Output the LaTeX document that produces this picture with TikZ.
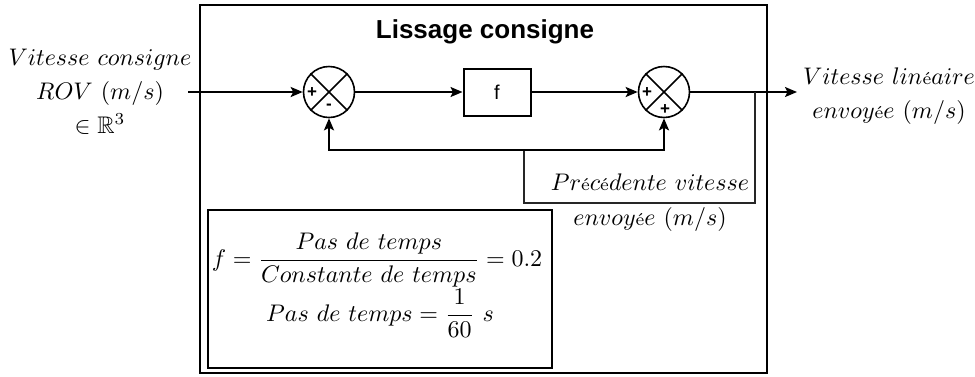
\RequirePackage{fix-cm}
\documentclass[tikz,border=0pt]{standalone}
\usepackage{amsmath,amssymb}
\usepackage{fontspec}
\newfontfamily\sansfnt{Liberation Sans}
\usetikzlibrary{arrows.meta}
\newcommand{\myeacc}{\text{\fontsize{7.2}{8}\selectfont é}}
\newcommand{\mymath}[1]{\scalebox{2.4}{$#1$}}
\begin{document}
\begin{tikzpicture}[x=1pt,y=-1pt,
  ln/.style={line width=2pt},
  arr/.style={ln,-{Stealth[length=12pt,width=10pt,inset=2.5pt]}},
  thinln/.style={line width=1.3pt,black!85},
  sumnode/.style={circle,draw,line width=1.6pt,minimum size=51pt,inner sep=0pt},
  mtxt/.style={inner sep=0pt,anchor=base},
  sign/.style={inner sep=0pt,font=\sansfnt\fontsize{17}{17}\selectfont\bfseries}
]
\useasboundingbox (0,0) rectangle (975,376);
% outer box
\node[draw,line width=2pt,minimum width=567pt,minimum height=368pt,inner sep=0pt] (outer) at (483.5,189) {};
\node[inner sep=0pt,anchor=base,font=\sansfnt\fontsize{26}{30}\selectfont\bfseries] (title) at (485,38) {Lissage consigne};
% input labels
\node[mtxt] (inA) at (100,65) {\mymath{Vitesse\ consigne}};
\node[mtxt] (inB) at (100,99) {\mymath{ROV\ (m/s)}};
\node[mtxt] (inC) at (100,133) {\mymath{\in\mathbb{R}^3}};
% output labels
\node[mtxt] (outA) at (889,84) {\mymath{Vitesse\ lin\myeacc aire}};
\node[mtxt] (outB) at (889,118) {\mymath{envoy\myeacc e\ (m/s)}};
% feedback label
\node[mtxt] (fbA) at (650,190) {\mymath{Pr\myeacc c\myeacc dente\ vitesse}};
\node[mtxt] (fbB) at (650,225) {\mymath{envoy\myeacc e\ (m/s)}};
% blocks
\node[sumnode] (s1) at (329,92) {};
\draw[line width=1.6pt] (s1.north west) -- (s1.south east) (s1.north east) -- (s1.south west);
\node[sign] (s1p) at (312,93) {+};
\node[sign] (s1m) at (329,107) {-};
\node[draw,line width=2pt,minimum width=67pt,minimum height=47pt,inner sep=0pt,font=\sansfnt\fontsize{20}{20}\selectfont] (fbox) at (497,92) {f};
\node[sumnode] (s2) at (664,92) {};
\draw[line width=1.6pt] (s2.north west) -- (s2.south east) (s2.north east) -- (s2.south west);
\node[sign] (s2p) at (647,93) {+};
\node[sign] (s2q) at (665,110) {+};
% coordinates
\coordinate (in) at (188,92);
\coordinate (out) at (797,92);
\coordinate (j) at (755,92);
\coordinate (fb) at (524,150);
% connectors
\draw[arr] (in) -- (s1.west);
\draw[arr] (s1.east) -- (fbox.west);
\draw[arr] (fbox.east) -- (s2.west);
\draw[arr] (s2.east) -- (out);
\draw[thinln] (j) -- ++(0,111) -| (fb);
\draw[arr] (fb) -| (s1.south);
\draw[arr] (fb) -| (s2.south);
% formula box
\node[draw,line width=2.6pt,minimum width=344pt,minimum height=158pt,inner sep=0pt] (formula) at (380,289) {};
\node[mtxt] (eq1) at (377,266) {\mymath{\displaystyle f=\frac{Pas\ de\ temps}{Constante\ de\ temps}=0.2}};
\node[mtxt] (eq2) at (380,321) {\mymath{\displaystyle Pas\ de\ temps=\frac{1}{60}\ s}};
\end{tikzpicture}
\end{document}
